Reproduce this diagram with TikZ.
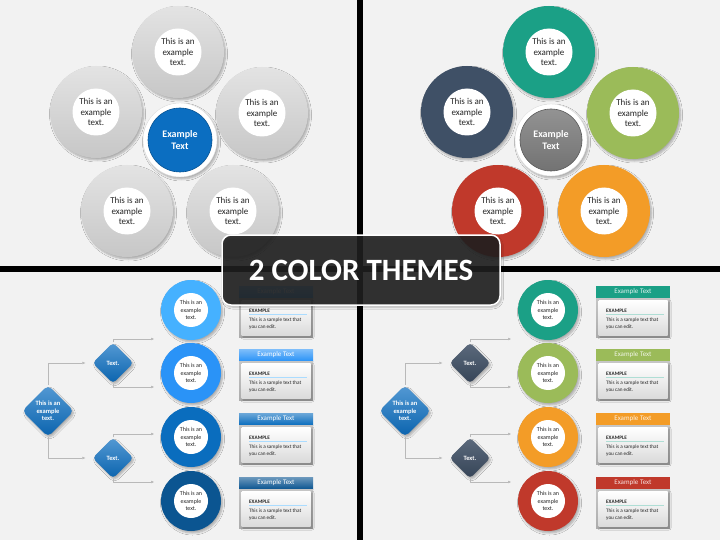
\documentclass[tikz,border=0pt]{standalone}
\usepackage{fontspec}
\setmainfont{Carlito}
\usetikzlibrary{shapes, shapes.geometric, positioning, arrows.meta, shadows.blur, calc}
\definecolor{pgray}{HTML}{F2F2F2}
\definecolor{cteal}{HTML}{1BA086}
\definecolor{cslate}{HTML}{3F5066}
\definecolor{cgreen}{HTML}{9BBB59}
\definecolor{cred}{HTML}{C0392B}
\definecolor{corange}{HTML}{F39C27}
\definecolor{bone}{HTML}{45B1FF}
\definecolor{btwo}{HTML}{2A93F7}
\definecolor{bthree}{HTML}{0A6DBE}
\definecolor{bfour}{HTML}{0B5591}
\definecolor{cblue}{HTML}{0B6EC1}
\newcommand{\exmptext}{This is an\\example\\text.}

\begin{document}
\begin{tikzpicture}[x=1pt, y=-1pt, line join=round,
 shad/.style={blur shadow={shadow xshift=1.5pt, shadow yshift=-2pt, shadow blur radius=2pt, shadow opacity=30, shadow blur steps=6}},
 ring/.style={circle, inner sep=0, minimum size=92, shad},
 hole/.style={circle, fill=white, inner sep=0, minimum size=47, align=center, text=black!85, font=\fontsize{9}{10.7}\selectfont},
 bring/.style={circle, inner sep=0, minimum size=60, shad},
 bhole/.style={circle, fill=white, inner sep=0, minimum size=34, align=center, text=black!85, font=\fontsize{6}{7.3}\selectfont},
 bigdia/.style={diamond, aspect=1, inner sep=0, minimum size=52, rounded corners=5, shad},
 smalldia/.style={diamond, aspect=1, inner sep=0, minimum size=41, rounded corners=4, shad},
 dtext/.style={align=center, text=white, inner sep=0, font=\bfseries\fontsize{6.5}{7.5}\selectfont},
 conn/.style={draw=gray!55, line width=.5pt, -{Triangle[length=3pt, width=2.5pt]}, shorten >=1pt},
 hdr/.style={rectangle, inner sep=0, minimum width=74, minimum height=12, text=white, font=\fontsize{7}{8}\selectfont},
 bodyo/.style={rectangle, inner sep=0, minimum width=74, minimum height=39, top color=gray!45, bottom color=gray!65},
 bodyi/.style={rectangle, inner sep=0, minimum width=69, minimum height=35, top color=white, bottom color=gray!28, shad},
 sample/.style={anchor=west, inner sep=0, text=black!85, font=\fontsize{5.2}{6}\selectfont}
]
\useasboundingbox (0,0) rectangle (720,540);
\fill[black] (0,0) rectangle (720,540);
\fill[pgray] (0,0) rectangle (357,266);
\fill[pgray] (363,0) rectangle (720,266);
\fill[pgray] (0,272) rectangle (357,540);
\fill[pgray] (363,272) rectangle (720,540);

% top left: gray theme
\foreach \nm/\px/\py in {t/178/52, l/96/112, r/262/113, bl/127/211, br/233/211}{
  \node[ring, top color=gray!22, bottom color=gray!44] (g\nm) at (\px,\py) {};
  \node[hole] (g\nm t) at (g\nm) {\exmptext};
}
\node[circle, fill=white, inner sep=0, minimum size=74, draw=gray!25, shad] (gc) at (180,140) {};
\node[circle, fill=cblue, draw=cblue!75!black, line width=.6pt, inner sep=0, minimum size=64, align=center, text=white, font=\bfseries\fontsize{10}{12}\selectfont] (gct) at (gc) {Example\\Text};

% top right: color theme
\begin{scope}[shift={(371,0)}]
\foreach \nm/\px/\py/\cc in {t/178/52/cteal, l/96/112/cslate, r/262/113/cgreen, bl/127/211/cred, br/233/211/corange}{
  \node[ring, fill=\cc] (k\nm) at (\px,\py) {};
  \node[hole] (k\nm t) at (k\nm) {\exmptext};
}
\node[circle, fill=white, inner sep=0, minimum size=72, draw=gray!25, shad] (kc) at (180,140) {};
\node[circle, top color=gray!85, bottom color=gray!110, draw=gray!70!black, line width=.6pt, inner sep=0, minimum size=62, align=center, text=white, font=\bfseries\fontsize{10}{12}\selectfont] (kct) at (kc) {Example\\Text};
\end{scope}

% bottom left: blue theme
\node[bigdia, top color=cblue!70!white, bottom color=cblue!90!black] (d0) at (48,411) {};
\node[dtext] (d0t) at (d0) {This is an\\example\\text.};
\node[smalldia, top color=cblue!70!white, bottom color=cblue!90!black] (d1) at (113,363) {};
\node[dtext] (d1t) at (d1) {Text.};
\node[smalldia, top color=cblue!70!white, bottom color=cblue!90!black] (d2) at (113,458) {};
\node[dtext] (d2t) at (d2) {Text.};
\coordinate (a1) at (155,339);
\coordinate (a2) at (155,387);
\coordinate (a3) at (155,434);
\coordinate (a4) at (155,482);
\draw[conn, shorten >=7pt] (d0.north) |- (d1.west);
\draw[conn, shorten >=7pt] (d0.south) |- (d2.west);
\draw[conn] (d1.north) |- (a1);
\draw[conn] (d1.south) |- (a2);
\draw[conn] (d2.north) |- (a3);
\draw[conn] (d2.south) |- (a4);
\foreach \i/\cy/\cc in {1/310/bone, 2/373/btwo, 3/437/bthree, 4/501/bfour}{
  \node[bring, fill=\cc] (c\i) at (191,\cy) {};
  \node[bhole] (c\i t) at (c\i) {\exmptext};
  \node[hdr, top color=\cc!60!white, bottom color=\cc] (h\i) at (276,{\cy-18}) {Example Text};
  \node[bodyo] (o\i) at (276,{\cy+7.5}) {};
  \node[bodyi] (i\i) at (o\i) {};
  \node[sample, font=\bfseries\fontsize{5.2}{6}\selectfont] (e\i) at (249,{\cy+1}) {EXAMPLE};
  \draw[bone!45, line width=.6pt] (249,{\cy+4}) -- (307,{\cy+4});
  \node[sample] (s\i) at (249,{\cy+10}) {This is a sample text that};
  \node[sample] (u\i) at (249,{\cy+17}) {you can edit.};
}

% bottom right: color theme
\begin{scope}[shift={(357,0)}]
\node[bigdia, top color=cblue!70!white, bottom color=cblue!90!black] (f0) at (48,411) {};
\node[dtext] (f0t) at (f0) {This is an\\example\\text.};
\node[smalldia, top color=cslate!85!white, bottom color=cslate!85!black] (f1) at (113,363) {};
\node[dtext] (f1t) at (f1) {Text.};
\node[smalldia, top color=cslate!85!white, bottom color=cslate!85!black] (f2) at (113,458) {};
\node[dtext] (f2t) at (f2) {Text.};
\coordinate (m1) at (155,339);
\coordinate (m2) at (155,387);
\coordinate (m3) at (155,434);
\coordinate (m4) at (155,482);
\draw[conn, shorten >=7pt] (f0.north) |- (f1.west);
\draw[conn, shorten >=7pt] (f0.south) |- (f2.west);
\draw[conn] (f1.north) |- (m1);
\draw[conn] (f1.south) |- (m2);
\draw[conn] (f2.north) |- (m3);
\draw[conn] (f2.south) |- (m4);
\foreach \i/\cy/\cc in {1/310/cteal, 2/373/cgreen, 3/437/corange, 4/501/cred}{
  \node[bring, fill=\cc] (q\i) at (191,\cy) {};
  \node[bhole] (q\i t) at (q\i) {\exmptext};
  \node[hdr, fill=\cc, text=white!85!\cc] (r\i) at (276,{\cy-18}) {Example Text};
  \node[bodyo] (p\i) at (276,{\cy+7.5}) {};
  \node[bodyi] (n\i) at (p\i) {};
  \node[sample, font=\bfseries\fontsize{5.2}{6}\selectfont] (x\i) at (249,{\cy+1}) {EXAMPLE};
  \draw[cteal!35, line width=.6pt] (249,{\cy+4}) -- (307,{\cy+4});
  \node[sample] (y\i) at (249,{\cy+10}) {This is a sample text that};
  \node[sample] (z\i) at (249,{\cy+17}) {you can edit.};
}
\end{scope}

\node[rectangle, rounded corners=9, minimum width=278, minimum height=70, fill=black!88, fill opacity=.88, text opacity=1, draw=white, draw opacity=1, line width=1.5pt, text=white, font=\bfseries\fontsize{31}{31}\selectfont, shad] (ban) at (361,270) {2 COLOR THEMES};
\end{tikzpicture}
\end{document}
